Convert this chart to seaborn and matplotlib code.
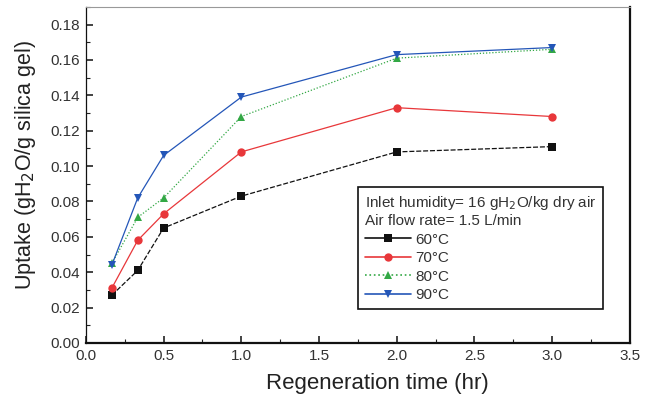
import matplotlib
matplotlib.use("Agg")
import matplotlib.pyplot as plt
from matplotlib.ticker import MultipleLocator
import seaborn as sns
import pandas as pd

# Regeneration time (hr) and silica gel uptake at each regeneration temperature
times = [1/6, 1/3, 0.5, 1.0, 2.0, 3.0]
uptake_60 = [0.027, 0.041, 0.065, 0.083, 0.108, 0.111]
uptake_70 = [0.031, 0.058, 0.073, 0.108, 0.133, 0.128]
uptake_80 = [0.045, 0.071, 0.082, 0.128, 0.161, 0.166]
uptake_90 = [0.044, 0.082, 0.106, 0.139, 0.163, 0.167]
temps = ["60°C", "70°C", "80°C", "90°C"]

series = dict(zip(temps, [uptake_60, uptake_70, uptake_80, uptake_90]))
df = pd.DataFrame(
    [(t, v, name) for name, vals in series.items() for t, v in zip(times, vals)],
    columns=["time", "uptake", "temp"],
)

sns.set_theme(style="ticks")
plt.rcParams["font.family"] = ["Liberation Sans", "DejaVu Sans"]

palette = {"60°C": "#111111", "70°C": "#e8373a", "80°C": "#33a845", "90°C": "#2456b8"}
markers = {"60°C": "s", "70°C": "o", "80°C": "^", "90°C": "v"}
dashes = {"60°C": (4, 1.5), "70°C": "", "80°C": (1, 1.5), "90°C": ""}

fig = plt.figure(figsize=(6.46, 4.03), dpi=100)
ax = fig.add_axes([0.133, 0.149, 0.842, 0.834])

sns.lineplot(
    data=df, x="time", y="uptake", hue="temp", style="temp",
    palette=palette, markers=markers, dashes=dashes,
    markersize=6, markeredgewidth=0, linewidth=0.9, ax=ax, legend=False,
)

ax.set_xlim(0, 3.5)
ax.set_ylim(0, 0.19)
ax.xaxis.set_major_locator(MultipleLocator(0.5))
ax.xaxis.set_minor_locator(MultipleLocator(0.25))
ax.yaxis.set_major_locator(MultipleLocator(0.02))
ax.yaxis.set_minor_locator(MultipleLocator(0.01))
ax.set_yticks([0.0, 0.02, 0.04, 0.06, 0.08, 0.10, 0.12, 0.14, 0.16, 0.18])
ax.yaxis.set_major_formatter(plt.FuncFormatter(lambda v, _: f"{v:.2f}"))
ax.xaxis.set_major_formatter(plt.FuncFormatter(lambda v, _: f"{v:.1f}"))

ax.tick_params(which="both", direction="in", colors="#222222", labelcolor="#333333")
ax.tick_params(which="major", length=5, width=1.2, labelsize=11, pad=4)
ax.tick_params(which="minor", length=3, width=0.8)

for side in ("left", "bottom", "right"):
    ax.spines[side].set_color("#111111")
ax.spines["left"].set_linewidth(0.9)
ax.spines["bottom"].set_linewidth(1.6)
ax.spines["right"].set_linewidth(1.6)
ax.spines["top"].set_color("#999999")
ax.spines["top"].set_linewidth(0.8)

ax.set_xlabel("Regeneration time (hr)", fontsize=16, color="#222222")
ax.xaxis.set_label_coords(0.535, -0.088)
ax.set_ylabel("Uptake (gH$_2$O/g silica gel)", fontsize=15.5, color="#222222")
ax.yaxis.set_label_coords(-0.088, 0.53)

handles = [
    plt.Line2D([], [], color=palette[t], marker=markers[t], markersize=6,
               markeredgewidth=0, linewidth=1.2,
               linestyle=":" if t == "80°C" else "-")
    for t in temps
]
leg = ax.legend(
    handles, temps,
    title="Inlet humidity= 16 gH$_2$O/kg dry air\nAir flow rate= 1.5 L/min",
    alignment="left", loc="upper left", bbox_to_anchor=(0.50, 0.464),
    borderaxespad=0,
    fontsize=11, title_fontsize=11, frameon=True, fancybox=False,
    edgecolor="#111111", framealpha=1, handlelength=3.0, handletextpad=0.3,
    labelspacing=0.3, borderpad=0.45,
)
leg.get_frame().set_linewidth(1.2)
for txt in leg.get_texts():
    txt.set_color("#333333")
leg.get_title().set_color("#333333")

fig.savefig("out.png", dpi=100)
